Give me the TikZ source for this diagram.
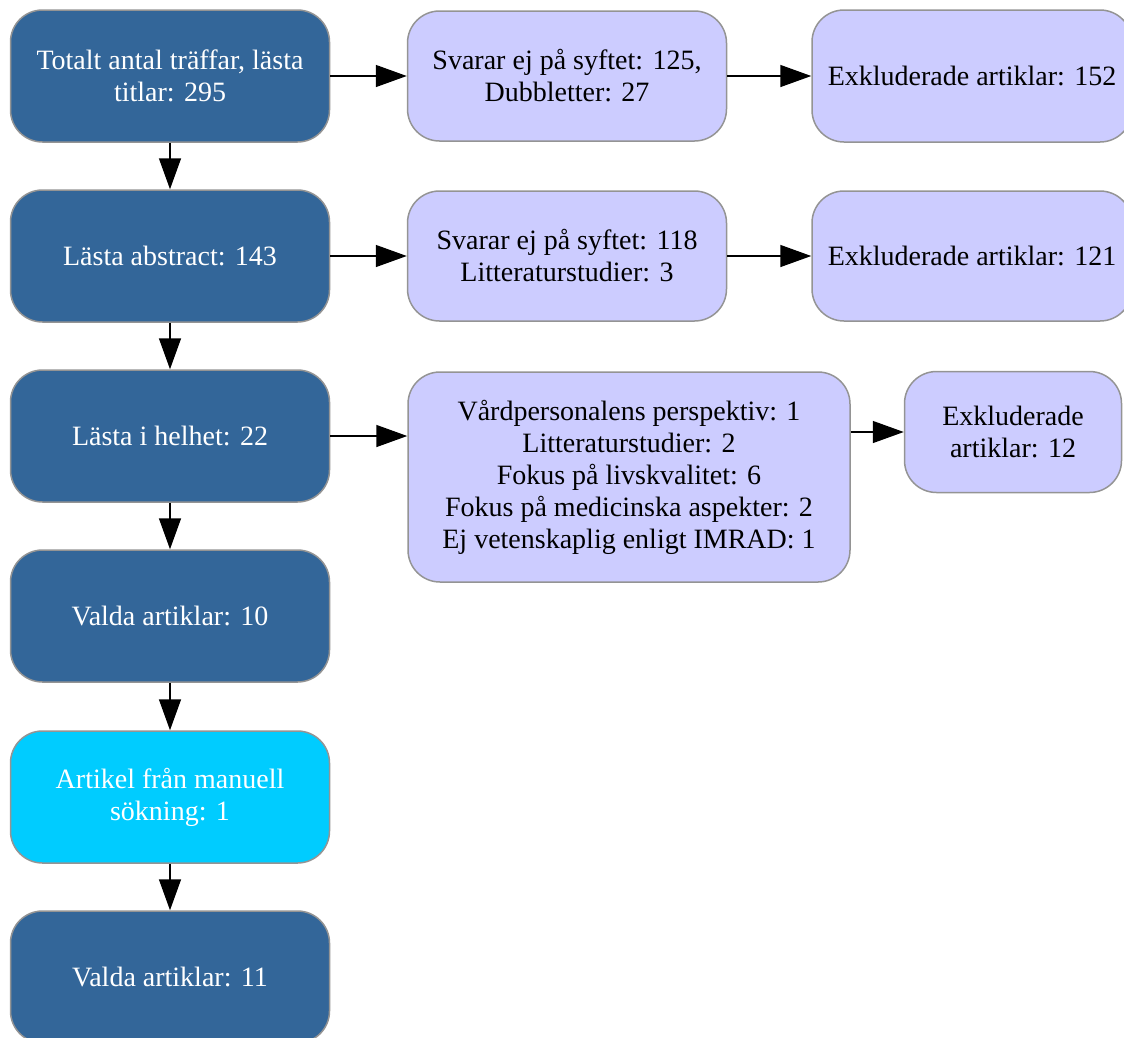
\documentclass[tikz,border=0pt]{standalone}
\usepackage{fontspec}
\setmainfont{Liberation Serif}
\usetikzlibrary{arrows.meta,positioning}
\definecolor{mainblue}{HTML}{336699}
\definecolor{exclblue}{HTML}{CCCCFF}
\definecolor{manualblue}{HTML}{00CCFF}
\definecolor{edgegray}{HTML}{949494}

\begin{document}
\begin{tikzpicture}
  [x=1pt,y=-1pt,
   every node/.style={draw=edgegray,line width=1.5pt,rounded corners=32pt,align=center,
     inner sep=0pt,font=\fontsize{28}{32}\selectfont},
   mainbox/.style={fill=mainblue,text=white,minimum width=319pt,minimum height=132pt},
   manualbox/.style={mainbox,fill=manualblue},
   exclbox/.style={fill=exclblue,text=black,minimum width=319pt,minimum height=130pt},
   flow/.style={-{Triangle[length=31pt,width=22pt]},line width=1.5pt,black}]
  \useasboundingbox (0,0) rectangle (1124,1037);

  % left column
  \node[mainbox] (n1) at (170,76)  {Totalt antal träffar, lästa\\titlar: 295};
  \node[mainbox] (n2) at (170,256) {Lästa abstract: 143};
  \node[mainbox] (n3) at (170,436) {Lästa i helhet: 22};
  \node[mainbox] (n4) at (170,616) {Valda artiklar: 10};
  \node[manualbox] (n5) at (170,797) {Artikel från manuell\\sökning: 1};
  \node[mainbox] (n6) at (170,977) {Valda artiklar: 11};

  % reasons
  \node[exclbox] (r1) at (567,76)  {Svarar ej på syftet: 125,\\Dubbletter: 27};
  \node[exclbox] (r2) at (567,256) {Svarar ej på syftet: 118\\Litteraturstudier: 3};
  \node[exclbox,minimum width=442pt,minimum height=210pt] (r3) at (629,477)
    {Vårdpersonalens perspektiv: 1\\Litteraturstudier: 2\\Fokus på livskvalitet: 6\\
     Fokus på medicinska aspekter: 2\\Ej vetenskaplig enligt IMRAD: 1};

  % excluded
  \node[exclbox,minimum width=320pt,minimum height=132pt] (e1) at (972,76)  {Exkluderade artiklar: 152};
  \node[exclbox,minimum width=320pt,minimum height=130pt] (e2) at (972,256) {Exkluderade artiklar: 121};
  \node[exclbox,minimum width=217pt,minimum height=121pt] (e3) at (1013,432) {Exkluderade\\artiklar: 12};

  \foreach \from/\to in {n1/n2,n2/n3,n3/n4,n4/n5,n5/n6}
    \draw[flow] (\from) -- (\to);
  \foreach \from/\to in {n1/r1,n2/r2,r1/e1,r2/e2}
    \draw[flow] (\from) -- (\to);
  \draw[flow] (n3.east) -- (n3.east -| r3.west);
  \draw[flow] (r3.east |- e3.west) -- (e3.west);
\end{tikzpicture}
\end{document}
